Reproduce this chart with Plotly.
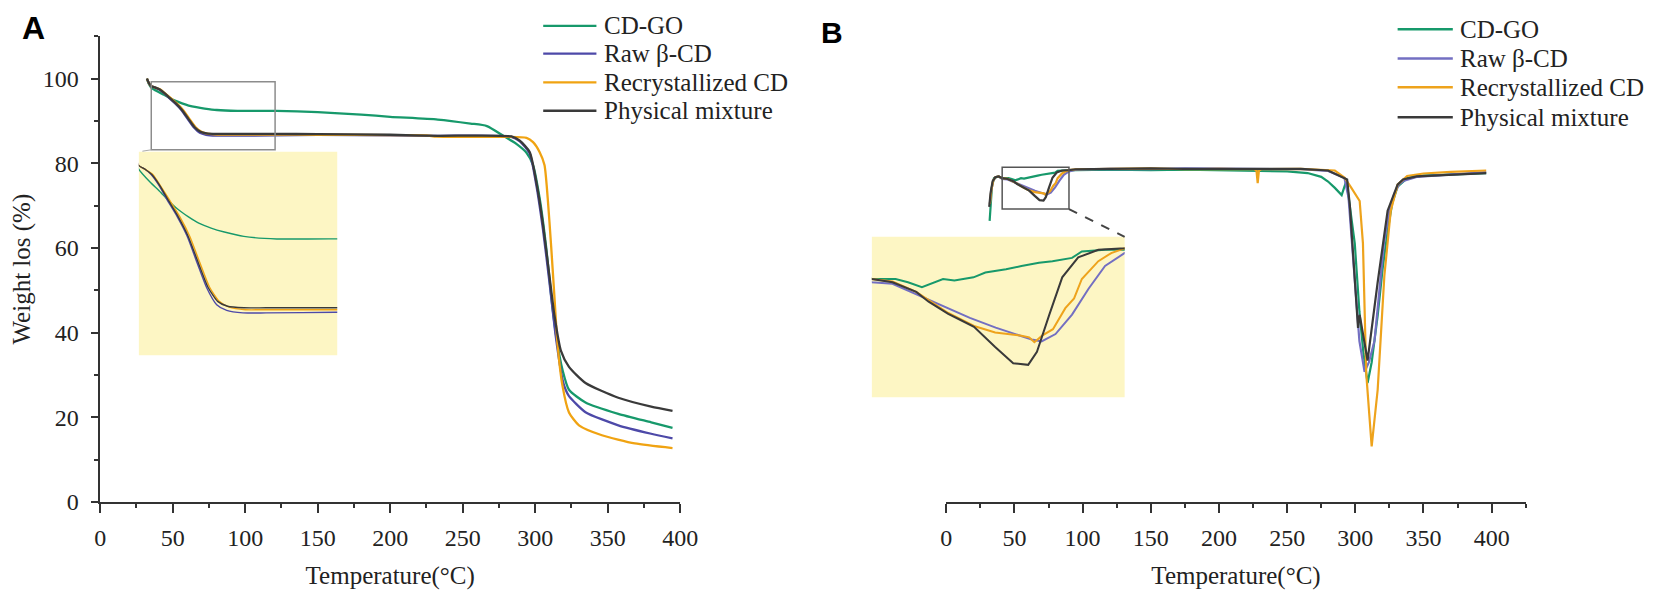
import plotly.graph_objects as go

W, H = 1654, 591

names = ["CD-GO", "Raw β-CD", "Recrystallized CD", "Physical mixture"]
colors_a = ["#17996b", "#4d49a8", "#f0a312", "#3a3a3a"]
colors_b = ["#17996b", "#736fc2", "#eea31c", "#3a3a3a"]

# ---- panel A: TGA, weight (%) vs temperature
a_go_t = [32.2, 33.5, 35.2, 40, 44, 47.9, 52, 56.4, 61, 66.3, 72, 80.4, 94.6, 121.5, 150, 180, 200,
          232.8, 255.4, 266.7, 278, 287, 294, 298.5, 303, 307.5, 311, 314.3, 318.9, 323.3, 334.7,
          357.3, 380, 394.7]
a_go_w = [100, 98.8, 97.9, 96.9, 96.2, 95.45, 94.75, 94.17, 93.65, 93.26, 92.95, 92.6, 92.4, 92.4,
          92.1, 91.5, 91.0, 90.35, 89.4, 88.8, 86.5, 84.6, 82.5, 79.6, 71.9, 60.4, 48.8, 39.6, 31.1,
          26.5, 23.5, 20.8, 18.8, 17.5]

a_raw_t = [32.2, 33.5, 35.2, 38, 40.5, 44, 47.5, 51.7, 56, 60.3, 64.5, 68.7, 73, 80, 90, 120, 150, 200,
           232.8, 283, 289.4, 296.2, 300.7, 305.3, 309.8, 314.3, 318.9, 321, 323.3, 334.7, 357.3,
           380, 394.7]
a_raw_w = [100, 99.0, 98.2, 97.9, 97.5, 96.6, 95.45, 94.17, 92.62, 90.5, 88.5, 87.2, 86.75, 86.55,
           86.55, 86.6, 86.7, 86.6, 86.5, 86.3, 85.2, 82.3, 75.0, 64.5, 52.0, 38.8, 28.8, 26.5, 25.0,
           21.2, 18.1, 16.1, 15.0]

a_rec_t = [32.2, 33.5, 35.2, 38, 41.2, 44.5, 48.5, 52.8, 57.1, 61.4, 65.6, 69.8, 74.1, 81, 90, 120,
           150, 200, 225, 232, 280, 294, 298.5, 303, 306.4, 308.6, 311, 313.2, 315.4, 318.9, 323.3,
           330.2, 346, 368.7, 394.7]
a_rec_w = [100, 99.0, 98.2, 97.9, 97.5, 96.6, 95.45, 94.17, 92.62, 90.55, 88.6, 87.46, 87.0, 86.8,
           86.8, 86.8, 86.75, 86.65, 86.6, 86.3, 86.25, 86.0, 85.0, 82.7, 79.6, 71.9, 60.4, 48.8,
           37.3, 27.3, 21.15, 18.1, 15.75, 13.8, 12.7]

a_phy_t = [32.2, 33.5, 35.2, 38, 40.8, 44.3, 47.9, 52.1, 56.4, 60.7, 64.9, 69.1, 73.4, 80.4, 90, 120,
           150, 200, 232.8, 283.6, 289.4, 296.2, 300.7, 305.3, 309.8, 313.2, 317.7, 323.3, 334.7,
           357.3, 380, 394.7]
a_phy_w = [100, 99.0, 98.2, 97.9, 97.5, 96.6, 95.45, 94.17, 92.62, 90.55, 88.6, 87.46, 87.07, 86.95,
           86.95, 86.95, 86.9, 86.75, 86.5, 86.35, 85.35, 82.7, 75.7, 65.7, 53.4, 44.2, 35.75, 31.9,
           28.1, 24.6, 22.5, 21.5]

# ---- panel B: DTG (arbitrary units) vs temperature
b_go_t = [31.8, 32.5, 33.5, 35, 38, 41, 45.6, 48, 50.7, 52.5, 54.8, 57, 60.7, 63, 67, 70, 73.4, 76,
          79.8, 81.7, 86.2, 90, 95, 120, 150, 175, 200, 230, 250, 265, 275, 280, 285, 290, 293.5,
          296, 299.6, 303, 306, 309, 312, 316.4, 320, 323.7, 327, 331, 338, 350, 370, 396]
b_go_v = [66.4, 70.5, 74.5, 76.5, 76.9, 76.5, 76.5, 76.3, 76.0, 76.2, 76.5, 76.4, 76.6, 76.9, 77.1,
          77.3, 77.5, 77.6, 77.8, 78.2, 78.3, 78.3, 78.4, 78.5, 78.4, 78.5, 78.3, 78.2, 78.1, 77.7,
          76.8, 75.7, 74.2, 72.5, 75.9, 70.0, 61.1, 45.0, 35.0, 28.1, 33.0, 44.0, 55.0, 64.0, 70.5,
          74.5, 76.5, 77.1, 77.4, 77.7]

b_raw_t = [32, 33, 34.5, 36, 38.5, 41, 45, 50, 55, 60, 65, 70, 72, 73.9, 76.6, 79.8, 83, 86.2, 90,
           95, 120, 150, 175, 200, 230, 260, 280, 292, 295, 297.5, 300, 303, 306.8, 310, 314.1, 317,
           321, 325, 328.5, 332, 335.8, 345, 370, 396]
b_raw_v = [70.4, 73.5, 76.0, 76.7, 76.9, 76.3, 76.2, 75.5, 74.8, 74.1, 73.5, 73.0, 72.76, 72.65,
           73.1, 74.3, 75.9, 77.3, 78.1, 78.5, 78.7, 78.6, 78.8, 78.7, 78.6, 78.6, 78.2, 76.6, 72.0,
           61.1, 50.0, 38.0, 30.75, 33.0, 38.1, 48.0, 61.1, 69.0, 72.7, 75.0, 75.9, 76.8, 77.4, 77.9]

b_rec_t = [32, 33, 34.5, 36, 38.5, 41, 45, 49.6, 52, 55.8, 60.8, 64.9, 70, 71.5, 72.5, 74, 76.1, 78.5,
           80.2, 81.7, 84.9, 87.4, 90, 95, 120, 150, 175, 200, 226, 227.5, 228.4, 229.3, 231, 260,
           285, 292.2, 297.1, 303.2, 305.6, 308, 312, 316.4, 321.3, 326, 331, 338, 350, 370, 396]
b_rec_v = [70.4, 73.5, 76.0, 76.7, 76.9, 76.5, 76.35, 75.7, 75.2, 74.4, 73.6, 73.2, 73.0, 72.9, 72.6,
           73.0, 73.4, 74.7, 75.3, 76.5, 77.6, 78.1, 78.4, 78.6, 78.7, 78.8, 78.6, 78.7, 78.6, 78.3,
           75.3, 78.3, 78.6, 78.7, 78.3, 76.6, 74.2, 71.1, 61.1, 30.4, 13.1, 26.5, 53.4, 68.8,
           74.97, 77.0, 77.6, 78.0, 78.3]

b_phy_t = [31.5, 32.5, 34, 36, 38.5, 41, 45, 49.6, 52, 55.8, 58, 60.8, 64.9, 68.4, 71.3, 73, 75.4,
           77.9, 81, 84.9, 90, 95, 120, 150, 175, 200, 230, 260, 280, 292, 294, 296, 299, 302, 303.2,
           309, 316.4, 323.7, 331, 335, 345, 370, 396]
b_phy_v = [69.7, 73.0, 75.8, 76.7, 76.9, 76.5, 76.3, 75.7, 75.1, 74.35, 74.0, 73.55, 72.3, 71.3,
           71.2, 72.0, 74.3, 76.6, 77.83, 78.3, 78.4, 78.6, 78.7, 78.8, 78.7, 78.75, 78.7, 78.7,
           78.3, 76.6, 76.2, 70.0, 56.0, 41.1, 44.2, 33.4, 51.9, 68.8, 74.97, 76.2, 76.9, 77.3, 77.7]

a_series = [(a_go_t, a_go_w), (a_raw_t, a_raw_w), (a_rec_t, a_rec_w), (a_phy_t, a_phy_w)]
b_series = [(b_go_t, b_go_v), (b_raw_t, b_raw_v), (b_rec_t, b_rec_v), (b_phy_t, b_phy_v)]

# zoom boxes (data units of the main axes)
a_box = [35.2, 120.6, 83.2, 99.3]
b_box = [41, 90, 69.2, 79.1]


def px(x):
    return x / W


def py(y):
    return 1 - y / H


dom_a = [px(87.5), px(676)]
dom_b = [px(946), px(1534)]
dom_y = [py(505), py(29)]
dom_a_in = [px(126.7), px(328)]
dom_a_in_y = [py(355), py(147)]
dom_b_in = [px(870.5), px(1127)]
dom_b_in_y = [py(398), py(234)]

fig = go.Figure()

for i, (t, w) in enumerate(a_series):
    fig.add_trace(go.Scatter(x=t, y=w, mode="lines", name=names[i], xaxis="x", yaxis="y",
                             line=dict(color=colors_a[i], width=2.3, shape="spline", smoothing=0.6)))
for i, (t, w) in enumerate(a_series):
    fig.add_trace(go.Scatter(x=t, y=w, mode="lines", name=names[i], xaxis="x3", yaxis="y3",
                             line=dict(color=colors_a[i], width=1.4, shape="spline", smoothing=0.6)))
for i, (t, v) in enumerate(b_series):
    fig.add_trace(go.Scatter(x=t, y=v, mode="lines", name=names[i], xaxis="x2", yaxis="y2",
                             line=dict(color=colors_b[i], width=2.2)))
for i, (t, v) in enumerate(b_series):
    fig.add_trace(go.Scatter(x=t, y=v, mode="lines", name=names[i], xaxis="x4", yaxis="y4",
                             line=dict(color=colors_b[i], width=2)))

serif = "Liberation Serif, Times New Roman, serif"
axis_style = dict(showline=True, linecolor="#333", linewidth=1.6, ticks="outside",
                  tickwidth=1.6, tickcolor="#333", showgrid=False, zeroline=False,
                  tickfont=dict(family=serif, size=24, color="#222"))
title_font = dict(family=serif, size=25, color="#222")

fig.update_layout(
    width=W, height=H, margin=dict(l=0, r=0, t=0, b=0),
    paper_bgcolor="white", plot_bgcolor="rgba(0,0,0,0)", showlegend=False,
    xaxis=dict(domain=dom_a, range=[0, 400], dtick=50, anchor="y", ticklen=9, ticklabelstandoff=5,
               minor=dict(dtick=25, ticklen=4, ticks="outside", tickcolor="#333"),
               title=dict(text="Temperature(°C)", font=title_font, standoff=16),
               **axis_style),
    yaxis=dict(domain=dom_y, range=[0, 110], dtick=20, anchor="x", ticklen=7, ticklabelstandoff=8,
               minor=dict(dtick=10, ticklen=4, ticks="outside", tickcolor="#333"),
               title=dict(text="Weight los (%)", font=title_font, standoff=8),
               **axis_style),
    xaxis2=dict(domain=dom_b, range=[0, 425], dtick=50, anchor="y2", ticklen=9, ticklabelstandoff=5,
                minor=dict(dtick=25, ticklen=4, ticks="outside", tickcolor="#333"),
                title=dict(text="Temperature(°C)", font=title_font, standoff=16),
                **axis_style),
    yaxis2=dict(domain=dom_y, range=[0, 110], anchor="x2", visible=False),
    xaxis3=dict(domain=dom_a_in, range=a_box[:2], anchor="y3", visible=False),
    yaxis3=dict(domain=dom_a_in_y, range=a_box[2:], anchor="x3", visible=False),
    xaxis4=dict(domain=dom_b_in, range=b_box[:2], anchor="y4", visible=False),
    yaxis4=dict(domain=dom_b_in_y, range=b_box[2:], anchor="x4", visible=False),
)

# yellow inset backgrounds
for xr, yr in [("x3", "y3"), ("x4", "y4")]:
    fig.add_shape(type="rect", xref=xr + " domain", yref=yr + " domain", x0=0, x1=1, y0=0, y1=1,
                  fillcolor="#fdf6c4", line=dict(width=0), layer="below")

# zoom boxes on the main curves
fig.add_shape(type="rect", xref="x", yref="y", x0=a_box[0], x1=a_box[1], y0=a_box[2], y1=a_box[3],
              line=dict(color="#8c8c8c", width=1.5))
fig.add_shape(type="rect", xref="x2", yref="y2", x0=b_box[0], x1=b_box[1], y0=b_box[2], y1=b_box[3],
              line=dict(color="#555", width=1.5))


def to_paper(dom_x, xrange, t, v):
    xp = dom_x[0] + (t - xrange[0]) / (xrange[1] - xrange[0]) * (dom_x[1] - dom_x[0])
    yp = dom_y[0] + v / 110 * (dom_y[1] - dom_y[0])
    return xp, yp


# connector lines box -> inset
x0, y0 = to_paper(dom_a, [0, 400], a_box[0], a_box[2])
fig.add_shape(type="line", xref="paper", yref="paper", x0=x0, y0=y0, x1=dom_a_in[0], y1=dom_a_in_y[1],
              line=dict(color="#aaa", width=1, dash="dash"))
x0, y0 = to_paper(dom_b, [0, 425], b_box[1], b_box[2])
fig.add_shape(type="line", xref="paper", yref="paper", x0=x0, y0=y0, x1=dom_b_in[1], y1=dom_b_in_y[1],
              line=dict(color="#444", width=2, dash="dash"))

# legends drawn by hand so the line length matches
legend_a = dict(x0=537, x1=591, tx=597, rows=[18.3, 46.7, 76, 105], colors=colors_a)
legend_b = dict(x0=1404, x1=1460, tx=1465, rows=[21.7, 51.7, 81, 111.7], colors=colors_b)
for lg in [legend_a, legend_b]:
    for i, r in enumerate(lg["rows"]):
        fig.add_shape(type="line", xref="paper", yref="paper", x0=px(lg["x0"]), x1=px(lg["x1"]),
                      y0=py(r), y1=py(r), line=dict(color=lg["colors"][i], width=2.4))
        fig.add_annotation(x=px(lg["tx"]), y=py(r), xref="paper", yref="paper", text=names[i],
                           showarrow=False, xanchor="left", yanchor="middle",
                           font=dict(family=serif, size=25, color="#222"))

# panel letters
fig.add_annotation(x=px(6), y=py(20), xref="paper", yref="paper", text="<b>A</b>", showarrow=False,
                   xanchor="left", yanchor="middle",
                   font=dict(family="Liberation Sans, Arial, sans-serif", size=32, color="black"))
fig.add_annotation(x=px(817), y=py(25), xref="paper", yref="paper", text="<b>B</b>", showarrow=False,
                   xanchor="left", yanchor="middle",
                   font=dict(family="Liberation Sans, Arial, sans-serif", size=30, color="black"))

fig.write_html("out.html")
